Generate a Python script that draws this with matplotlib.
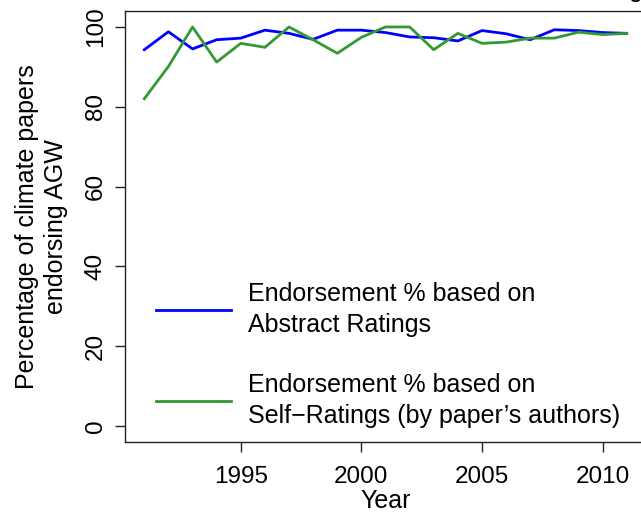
import matplotlib
matplotlib.use('Agg')
import matplotlib.pyplot as plt

plt.rcParams['font.family'] = ['Liberation Sans', 'DejaVu Sans']

years = list(range(1991, 2012))
abstract_pct = [94.3, 98.8, 94.5, 96.8, 97.2, 99.2, 98.4, 96.9, 99.2, 99.2, 98.6,
                97.5, 97.3, 96.5, 99.1, 98.3, 96.8, 99.3, 99.1, 98.6, 98.4]
self_pct = [82.0, 90.1, 100.0, 91.2, 95.9, 94.9, 100.0, 96.8, 93.4, 97.4, 100.0,
            100.0, 94.3, 98.4, 95.9, 96.2, 97.2, 97.2, 98.7, 98.1, 98.4]
x_ticks = [1995, 2000, 2005, 2010]
y_ticks = [0, 20, 40, 60, 80, 100]

W, H = 641, 514
fig = plt.figure(figsize=(W / 100, H / 100), dpi=100)
# axes box runs past the right edge of the picture (cropped original)
left, right, top, bottom = 125, 646, 11, 442
ax = fig.add_axes([left / W, 1 - bottom / H, (right - left) / W, (bottom - top) / H])

ax.plot(years, abstract_pct, color='#0000ff', lw=2.0,
        label='Endorsement % based on\nAbstract Ratings')
ax.plot(years, self_pct, color='#339933', lw=2.0,
        label='Endorsement % based on\nSelf\u2212Ratings (by paper\u2019s authors)')

ax.set_xlim(1990.2, 2011.8)
ax.set_ylim(-4, 104)
ax.set_xticks(x_ticks)
ax.set_yticks(y_ticks)
ax.tick_params(direction='out', length=7, width=1, colors='#222222',
               labelsize=17.5, labelcolor='black')
ax.tick_params(axis='x', pad=10)
ax.tick_params(axis='y', pad=6)
for lbl in ax.get_yticklabels():
    lbl.set_rotation(90)
    lbl.set_va('center')
for sp in ax.spines.values():
    sp.set_color('#222222')
    sp.set_linewidth(1)

ax.set_xlabel('Year', fontsize=18, labelpad=1)
ax.set_ylabel('Percentage of climate papers\nendorsing AGW', fontsize=18,
              labelpad=12, linespacing=1.3)

leg = ax.legend(loc='lower left', bbox_to_anchor=(0.04, 0.01), frameon=False,
                fontsize=18, handlelength=3.0, handletextpad=0.7,
                labelspacing=1.45, borderaxespad=0)
for t in leg.get_texts():
    t.set_linespacing(1.35)

# remnant of a cut-off title at the top right
fig.text(636 / W, 1 - (-3) / H, 'g', fontsize=18, ha='center', va='baseline')

fig.savefig('out.png', dpi=100)
